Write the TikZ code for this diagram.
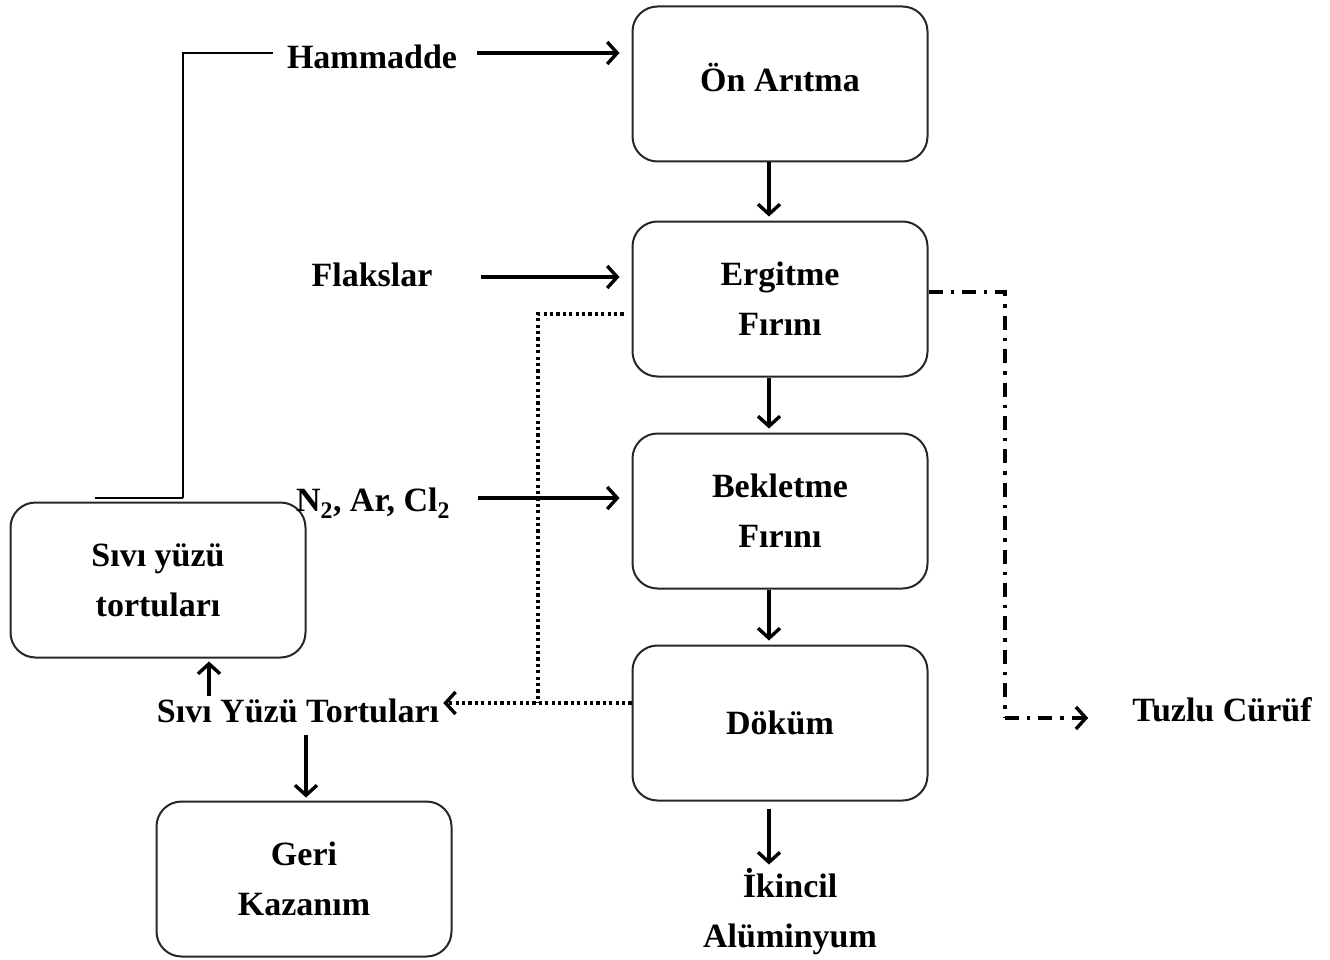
\documentclass[tikz,border=0pt]{standalone}
\usepackage{fontspec}
\setmainfont{Liberation Serif}
\usetikzlibrary{arrows.meta}
\begin{document}
\begin{tikzpicture}[x=1pt,y=-1pt,
  txt/.style={font=\fontsize{34}{50}\selectfont\bfseries, align=center, inner sep=0pt},
  proc/.style={txt, draw=black!85, line width=2pt, rounded corners=25pt,
    minimum width=295pt, minimum height=155pt},
  tip/.style={-{Straight Barb[length=10pt,width=22pt,line width=3.4pt]}},
  flow/.style={line width=3.4pt, tip},
  thin/.style={line width=2pt},
  dotline/.style={line width=3.2pt, dash pattern=on 3.2pt off 3.2pt},
  ddline/.style={line width=3.4pt, dash pattern=on 14pt off 8pt on 3.4pt off 8pt}]
\useasboundingbox (0,0) rectangle (1330,960);

% process boxes
\node[proc] (on)   at (780,84)  {\raisebox{14pt}{Ön Arıtma}};
\node[proc] (erg)  at (780,299) {Ergitme\\Fırını};
\node[proc] (bek)  at (780,511) {Bekletme\\Fırını};
\node[proc] (dok)  at (780,723) {Döküm};
\node[proc] (sv)   at (158,580) {Sıvı yüzü\\tortuları};
\node[proc] (geri) at (304,879) {Geri\\Kazanım};

% labels
\node[txt] (hamm) at (372,57)  {Hammadde};
\node[txt] (flak) at (372,275) {Flakslar};
\node[txt] (gas)  at (373,503) {N\textsubscript{2}, Ar, Cl\textsubscript{2}};
\node[txt] (syt)  at (298,711) {Sıvı Yüzü Tortuları};
\node[txt] (ik)   at (790,912) {İkincil\\Alüminyum};
\node[txt] (tc)   at (1222,710) {Tuzlu Cürüf};

% input arrows
\draw[flow, shorten >=12pt] ([xshift=20pt,yshift=4pt]hamm.east) -- (hamm.east |- 0,53 -| on.west);
\draw[flow, shorten >=12pt] ([xshift=48pt,yshift=-2pt]flak.east) -- (flak.east |- 0,277 -| erg.west);
\draw[flow, shorten >=12pt] ([xshift=28pt,yshift=5pt]gas.east) -- (gas.east |- 0,498 -| bek.west);

% recycle line from Sıvı yüzü tortuları to Hammadde
\coordinate (c1) at (183,498);
\draw[thin] ([xshift=-14pt,yshift=4pt]hamm.west) -| (c1);
\draw[thin] (c1) -- ++(-88,0);

% vertical main flow
\draw[flow, shorten >=4pt] (on.south -| 769,0)  -- (erg.north -| 769,0);
\draw[flow, shorten >=4pt] (erg.south -| 769,0) -- (bek.north -| 769,0);
\draw[flow, shorten >=4pt] (bek.south -| 769,0) -- (dok.north -| 769,0);
\draw[flow, shorten <=7pt, shorten >=4pt] (dok.south -| 769,0) -- (ik.north -| 769,0);

% dotted dross paths
\coordinate (j) at (538,703);
\draw[dotline] ([xshift=-8pt,yshift=-15pt]erg.west) -| (j);
\draw[dotline, tip, shorten >=4pt] ([yshift=20pt]dok.west) -- (syt.east |- j);

% dross handling
\draw[flow, shorten <=3pt, shorten >=3pt] (syt.north -| 209,0) -- (sv.south -| 209,0);
\draw[flow, shorten <=12pt, shorten >=3pt] (syt.south -| 306,0) -- (geri.north -| 306,0);

% salt slag
\coordinate (k) at (1005,718);
\draw[ddline] ([yshift=7pt]erg.east) -| (k);
\draw[ddline, tip, shorten >=44pt] (k) -- (tc.west |- k);
\end{tikzpicture}
\end{document}
